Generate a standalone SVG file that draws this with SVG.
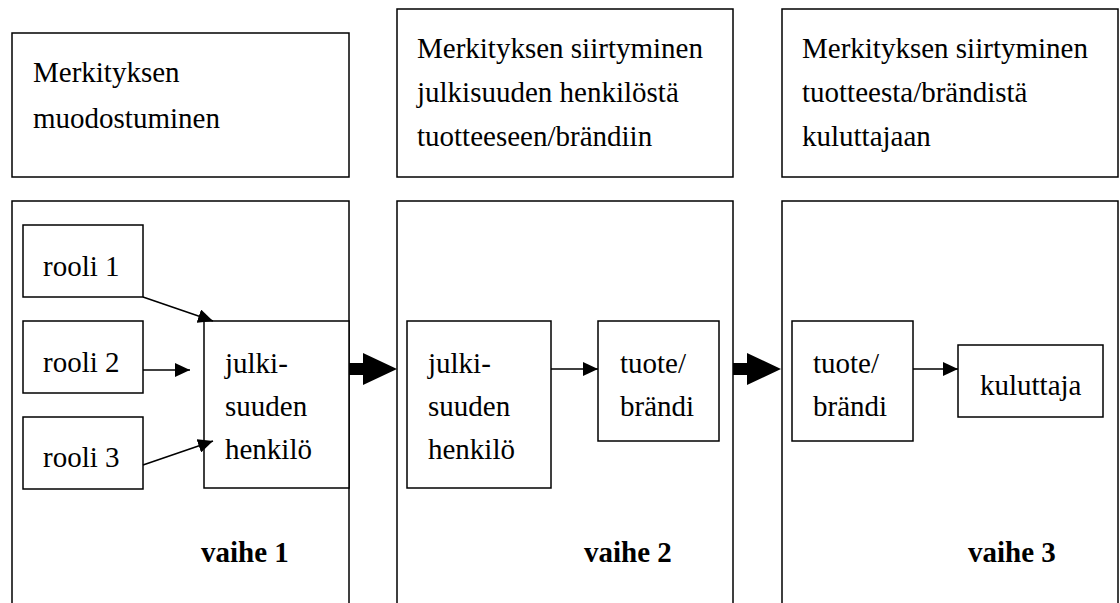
<svg xmlns="http://www.w3.org/2000/svg" width="1120" height="603" viewBox="0 0 1120 603">
<style>
.box{fill:#fff;stroke:#000;stroke-width:1.5}
.big{fill:none;stroke:#000;stroke-width:1.5}
text{font-family:'Liberation Serif',Tinos,'Times New Roman',Times,'DejaVu Serif',serif;font-size:29px;fill:#000}
.b{font-weight:bold}
.con{stroke:#000;stroke-width:1.5;fill:none}
.fat{fill:#000;stroke:none}
</style>
<defs>
<marker id="ah" viewBox="0 0 15 14" refX="15" refY="7" markerWidth="15" markerHeight="14" markerUnits="userSpaceOnUse" orient="auto">
<path d="M0,0 L15,7 L0,14 z" fill="#000"/>
</marker>
</defs>
<rect width="1120" height="603" fill="#fff"/>
<g id="header1"><rect class="box" x="12" y="33" width="337" height="144"/><text x="33" y="82">Merkityksen</text><text x="33" y="128">muodostuminen</text></g>
<g id="header2"><rect class="box" x="397" y="9" width="336" height="168"/><text x="417" y="58">Merkityksen siirtyminen</text><text x="417" y="102">julkisuuden henkilöstä</text><text x="417" y="146">tuotteeseen/brändiin</text></g>
<g id="header3"><rect class="box" x="782" y="9" width="336" height="168"/><text x="802" y="58">Merkityksen siirtyminen</text><text x="802" y="102">tuotteesta/brändistä</text><text x="802" y="146">kuluttajaan</text></g>
<g id="stage1"><rect class="big" x="12" y="201" width="337" height="420"/><text class="b" x="201" y="562">vaihe 1</text></g>
<g id="stage2"><rect class="big" x="397" y="201" width="336" height="420"/><text class="b" x="584" y="562">vaihe 2</text></g>
<g id="stage3"><rect class="big" x="782" y="201" width="336" height="420"/><text class="b" x="968" y="562">vaihe 3</text></g>
<g id="rooli1"><rect class="box" x="23" y="225" width="120" height="72"/><text x="43" y="276">rooli 1</text></g>
<g id="rooli2"><rect class="box" x="23" y="321" width="120" height="72"/><text x="43" y="372">rooli 2</text></g>
<g id="rooli3"><rect class="box" x="23" y="417" width="120" height="72"/><text x="43" y="467">rooli 3</text></g>
<g id="julki1"><rect class="box" x="204" y="321" width="145" height="167"/><text x="225" y="373">julki-</text><text x="225" y="416">suuden</text><text x="225" y="459">henkilö</text></g>
<g id="julki2"><rect class="box" x="407" y="321" width="144" height="167"/><text x="428" y="373">julki-</text><text x="428" y="416">suuden</text><text x="428" y="459">henkilö</text></g>
<g id="tuote2"><rect class="box" x="598" y="321" width="121" height="120"/><text x="620" y="373">tuote/</text><text x="620" y="416">brändi</text></g>
<g id="tuote3"><rect class="box" x="792" y="321" width="121" height="120"/><text x="813" y="373">tuote/</text><text x="813" y="416">brändi</text></g>
<g id="kuluttaja"><rect class="box" x="958" y="345" width="145" height="72"/><text x="980" y="395">kuluttaja</text></g>
<g id="connectors">
<line class="con" x1="143" y1="297" x2="213" y2="321" marker-end="url(#ah)"/>
<line class="con" x1="143" y1="370" x2="190" y2="370" marker-end="url(#ah)"/>
<line class="con" x1="143" y1="465" x2="213" y2="441" marker-end="url(#ah)"/>
<line class="con" x1="551" y1="369" x2="598" y2="369" marker-end="url(#ah)"/>
<line class="con" x1="913" y1="369" x2="958" y2="369" marker-end="url(#ah)"/>
<path class="fat" d="M349,363 L363,363 L363,353 L397,369 L363,385 L363,375 L349,375 z"/>
<path class="fat" d="M733,363 L747,363 L747,353 L781,369 L747,385 L747,375 L733,375 z"/>
</g>
</svg>
